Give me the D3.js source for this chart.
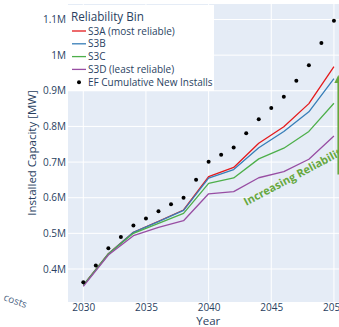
<!DOCTYPE html>
<html>
<head>
<meta charset="utf-8">
<script src="https://cdn.jsdelivr.net/npm/d3@7"></script>
<style>
  html, body { margin: 0; padding: 0; background: #ffffff; }
  svg { display: block; font-family: "Open Sans", "DejaVu Sans", sans-serif; }
</style>
</head>
<body>
<svg id="chart" width="339" height="327"></svg>
<script>
// Scenario years (modelled every two years) and installed capacity in MW
const scenarioYears = [2030, 2032, 2034, 2036, 2038, 2040, 2042, 2044, 2046, 2048, 2050];
const s3a = [355000, 443000, 503000, 534000, 565500, 659000, 685000, 752700, 799000, 864000, 968000];
const s3b = [354000, 442000, 503000, 533000, 564500, 655000, 679000, 740000, 786000, 841000, 934000];
const s3c = [354000, 442000, 500000, 528000, 556000, 640000, 655500, 709000, 739000, 786000, 865000];
const s3d = [351000, 439000, 493500, 517000, 535500, 611000, 617000, 656000, 673000, 708000, 773000];

// Annual cumulative new installs
const efYears = d3.range(2030, 2051);
const efInstalls = [362500, 410000, 458000, 490000, 522000, 542000, 562000, 581500, 600000, 650600,
                    701000, 720700, 741000, 780700, 820000, 851700, 883500, 928300, 971500, 1034000, 1096700];

const seriesNames = ["S3A (most reliable)", "S3B", "S3C", "S3D (least reliable)"];
const seriesValues = [s3a, s3b, s3c, s3d];
const seriesColors = ["#e41a1c", "#377eb8", "#4daf4a", "#984ea3"];

const xTicks = [2030, 2035, 2040, 2045, 2050];
const yTicks = [400000, 500000, 600000, 700000, 800000, 900000, 1000000, 1100000];
const yTickLabels = ["0.4M", "0.5M", "0.6M", "0.7M", "0.8M", "0.9M", "1M", "1.1M"];

const svg = d3.select("#chart");
const plot = { left: 68, top: 4, right: 348.6, bottom: 302 };
const textColor = "#2a3f5f";
const accent = "#67a83f";

const x = d3.scaleLinear().domain([2028.78, 2051.17]).range([plot.left, plot.right]);
const y = d3.scaleLinear().domain([307400, 1143500]).range([plot.bottom, plot.top]);

// Plot background
svg.append("rect")
  .attr("x", plot.left).attr("y", plot.top)
  .attr("width", plot.right - plot.left).attr("height", plot.bottom - plot.top)
  .attr("fill", "#e5ecf6");

// Grid lines
svg.append("g").selectAll("line").data(xTicks).join("line")
  .attr("x1", d => x(d)).attr("x2", d => x(d))
  .attr("y1", plot.top).attr("y2", plot.bottom)
  .attr("stroke", "#ffffff").attr("stroke-width", 1);
svg.append("g").selectAll("line").data(yTicks).join("line")
  .attr("x1", plot.left).attr("x2", plot.right)
  .attr("y1", d => y(d)).attr("y2", d => y(d))
  .attr("stroke", "#ffffff").attr("stroke-width", 1);

// Axes (labels only, no domain line)
const xAxis = d3.axisBottom(x).tickValues(xTicks).tickFormat(d3.format("d")).tickSize(0).tickPadding(0);
const gx = svg.append("g").attr("transform", `translate(0,${plot.bottom})`).call(xAxis);
gx.select(".domain").remove();
gx.selectAll("text").attr("dy", null).attr("y", 9).attr("fill", textColor)
  .attr("font-size", 10).attr("font-family", "Open Sans");

const yAxis = d3.axisLeft(y).tickValues(yTicks).tickFormat((d, i) => yTickLabels[i]).tickSize(0).tickPadding(2);
const gy = svg.append("g").attr("transform", `translate(${plot.left},0)`).call(yAxis);
gy.select(".domain").remove();
gy.selectAll("text").attr("fill", textColor).attr("font-size", 10).attr("font-family", "Open Sans");

// Axis titles
svg.append("text")
  .attr("x", (plot.left + plot.right) / 2).attr("y", 325)
  .attr("text-anchor", "middle").attr("fill", textColor)
  .attr("font-size", 11.5).text("Year");
svg.append("text")
  .attr("transform", `translate(36,${(plot.top + plot.bottom) / 2}) rotate(-90)`)
  .attr("text-anchor", "middle").attr("fill", textColor)
  .attr("font-size", 11.5).text("Installed Capacity [MW]");

// Scenario lines
const line = d3.line().x((d, i) => x(scenarioYears[i])).y(d => y(d));
svg.append("g").selectAll("path").data(seriesValues).join("path")
  .attr("d", d => line(d))
  .attr("fill", "none")
  .attr("stroke", (d, i) => seriesColors[i])
  .attr("stroke-width", 1.3)
  .attr("stroke-linejoin", "round");

// Cumulative installs markers
svg.append("g").selectAll("circle").data(efInstalls).join("circle")
  .attr("cx", (d, i) => x(efYears[i])).attr("cy", d => y(d))
  .attr("r", 2).attr("fill", "#000000");

// Reliability arrow along the right edge
const arrowX = x(2050.35);
const arrowTop = y(944000);
const arrowBottom = y(665000);
svg.append("line")
  .attr("x1", arrowX).attr("x2", arrowX)
  .attr("y1", arrowBottom).attr("y2", arrowTop + 6)
  .attr("stroke", accent).attr("stroke-width", 1.8);
svg.append("path")
  .attr("d", `M${arrowX},${arrowTop} L${arrowX - 4},${arrowTop + 8} L${arrowX + 4},${arrowTop + 8} Z`)
  .attr("fill", accent);

// Annotation text
svg.append("text")
  .attr("transform", "translate(295,175) rotate(-28)")
  .attr("text-anchor", "middle").attr("dominant-baseline", "central")
  .attr("fill", accent).attr("font-size", 11).attr("font-weight", "bold")
  .text("Increasing Reliability");

svg.append("text")
  .attr("transform", "translate(3,300) rotate(20)")
  .attr("fill", "#506784").attr("font-size", 10)
  .text("costs");

// Legend
const legend = svg.append("g");
legend.append("rect")
  .attr("x", 68).attr("y", 5).attr("width", 146).attr("height", 86)
  .attr("fill", "#ffffff");
legend.append("text")
  .attr("x", 71).attr("y", 21).attr("fill", textColor)
  .attr("font-size", 11.7).text("Reliability Bin");
const rowY = i => 31 + i * 12.8;
seriesNames.forEach((name, i) => {
  legend.append("line")
    .attr("x1", 72).attr("x2", 86).attr("y1", rowY(i)).attr("y2", rowY(i))
    .attr("stroke", seriesColors[i]).attr("stroke-width", 1.3);
  legend.append("text")
    .attr("x", 88).attr("y", rowY(i)).attr("dy", "0.35em")
    .attr("fill", textColor).attr("font-size", 10).text(name);
});
legend.append("circle").attr("cx", 79).attr("cy", rowY(4)).attr("r", 2).attr("fill", "#000000");
legend.append("text")
  .attr("x", 88).attr("y", rowY(4)).attr("dy", "0.35em")
  .attr("fill", textColor).attr("font-size", 10).text("EF Cumulative New Installs");
</script>
</body>
</html>
